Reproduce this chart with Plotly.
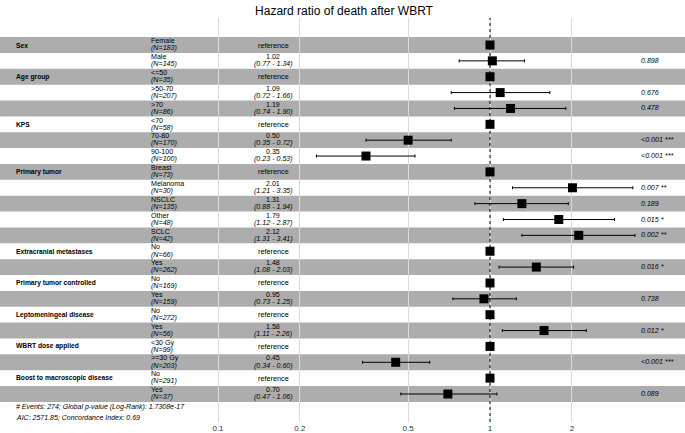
import plotly.graph_objects as go

# ---------------- data ----------------
variables = ["Sex", "", "Age group", "", "", "KPS", "", "", "Primary tumor", "", "", "", "",
             "Extracranial metastases", "", "Primary tumor controlled", "",
             "Leptomeningeal disease", "", "WBRT dose applied", "",
             "Boost to macroscopic disease", ""]
levels = ["Female", "Male", "<=50", ">50-70", ">70", "<70", "70-80", "90-100",
          "Breast", "Melanoma", "NSCLC", "Other", "SCLC", "No", "Yes", "No", "Yes",
          "No", "Yes", "<30 Gy", ">=30 Gy", "No", "Yes"]
n_obs = [183, 145, 35, 207, 86, 58, 170, 100, 73, 30, 135, 48, 42, 66, 262,
         169, 159, 272, 56, 99, 203, 291, 37]
hr = [1, 1.02, 1, 1.09, 1.19, 1, 0.50, 0.35, 1, 2.01, 1.31, 1.79, 2.12, 1, 1.48,
      1, 0.95, 1, 1.58, 1, 0.45, 1, 0.70]
ci_low = [None, 0.77, None, 0.72, 0.74, None, 0.35, 0.23, None, 1.21, 0.88, 1.12, 1.31,
          None, 1.08, None, 0.73, None, 1.11, None, 0.34, None, 0.47]
ci_high = [None, 1.34, None, 1.66, 1.90, None, 0.72, 0.53, None, 3.35, 1.94, 2.87, 3.41,
           None, 2.03, None, 1.25, None, 2.26, None, 0.60, None, 1.06]
p_text = ["", "0.898", "", "0.676", "0.478", "", "<0.001 ***", "<0.001 ***", "",
          "0.007 **", "0.189", "0.015 *", "0.002 **", "", "0.016 *", "", "0.738",
          "", "0.012 *", "", "<0.001 ***", "", "0.089"]
footer = ["# Events: 274; Global p-value (Log-Rank): 1.7308e-17",
          "AIC: 2571.85; Concordance Index: 0.69"]
tick_vals = [0.1, 0.2, 0.5, 1, 2]
tick_text = ["0.1", "0.2", "0.5", "1", "2"]
title = "Hazard ratio of death after WBRT"

# ---------------- figure ----------------
W, H = 685, 433
FONT = "Liberation Sans, Arial, sans-serif"
rows = list(range(1, len(levels) + 1))
Y_TOP, Y_BOT = -0.702, 24.765
UP, DN = 3.8, -3.3

fig = go.Figure()

# dotted reference line at HR = 1
fig.add_trace(go.Scatter(x=[1, 1], y=[Y_BOT, Y_TOP], mode="lines",
                         line=dict(color="black", width=1, dash="dot"),
                         hoverinfo="skip", showlegend=False))

ref_idx = [i for i in range(len(hr)) if ci_low[i] is None]
est_idx = [i for i in range(len(hr)) if ci_low[i] is not None]

fig.add_trace(go.Scatter(
    x=[hr[i] for i in est_idx], y=[rows[i] for i in est_idx], mode="markers",
    marker=dict(symbol="square", size=9, color="black"),
    error_x=dict(type="data", symmetric=False,
                 array=[ci_high[i] - hr[i] for i in est_idx],
                 arrayminus=[hr[i] - ci_low[i] for i in est_idx],
                 color="black", thickness=1, width=1.5),
    showlegend=False))
fig.add_trace(go.Scatter(
    x=[hr[i] for i in ref_idx], y=[rows[i] for i in ref_idx], mode="markers",
    marker=dict(symbol="square", size=9, color="black"), showlegend=False))

shapes = []
for r in rows:
    if r % 2 == 1:
        shapes.append(dict(type="rect", xref="paper", yref="y", x0=0, x1=1,
                           y0=r - 0.5, y1=r + 0.5, fillcolor="rgba(0,0,0,0.32)",
                           line=dict(width=0), layer="between"))

ann = []
def px(x):
    return x / W

def note(x, y, text, size, anchor="left", shift=0):
    ann.append(dict(x=px(x), y=y, yshift=shift, xref="paper", yref="y", text=text,
                    xanchor=anchor, yanchor="middle", showarrow=False, borderpad=0,
                    font=dict(size=size, color="black", family=FONT)))

for i, r in enumerate(rows):
    if variables[i]:
        note(15, r, "<b>%s</b>" % variables[i], 6.7)
    note(150, r, levels[i], 7.1, shift=UP)
    note(150, r, "<i>(N=%d)</i>" % n_obs[i], 7.1, shift=DN)
    if ci_low[i] is None:
        note(273, r, "reference", 7.3, anchor="center")
    else:
        note(273, r, "%.2f" % hr[i], 7.1, anchor="center", shift=UP)
        note(273, r, "<i>(%.2f - %.2f)</i>" % (ci_low[i], ci_high[i]), 7.1,
             anchor="center", shift=DN)
    if p_text[i]:
        note(640, r, "<i>%s</i>" % p_text[i], 7.1)

for t, yy in zip(footer, [23.82, 24.5]):
    note(15, yy, "<i>%s</i>" % t, 7.0)

fig.update_layout(
    width=W, height=H,
    margin=dict(l=0, r=0, t=18, b=11, pad=0),
    paper_bgcolor="white", plot_bgcolor="white",
    title=dict(text=title, x=344 / W, xanchor="center", y=1 - 11 / H, yanchor="middle",
               yref="container", font=dict(size=12, color="black", family=FONT)),
    shapes=shapes, annotations=ann,
    xaxis=dict(type="log", range=[-1.8015, 0.7169], tickvals=tick_vals, ticktext=tick_text,
               showgrid=True, gridcolor="#DADADA", gridwidth=1, zeroline=False,
               showline=False, ticks="", automargin=False,
               tickfont=dict(size=8, color="#333333", family=FONT)),
    yaxis=dict(range=[Y_BOT, Y_TOP], showgrid=False, zeroline=False, showticklabels=False,
               showline=False, ticks="", automargin=False),
    showlegend=False,
)

fig.write_html("out.html", config={"displayModeBar": False},
               post_script="document.body.style.margin='0';document.body.style.overflow='hidden';")
